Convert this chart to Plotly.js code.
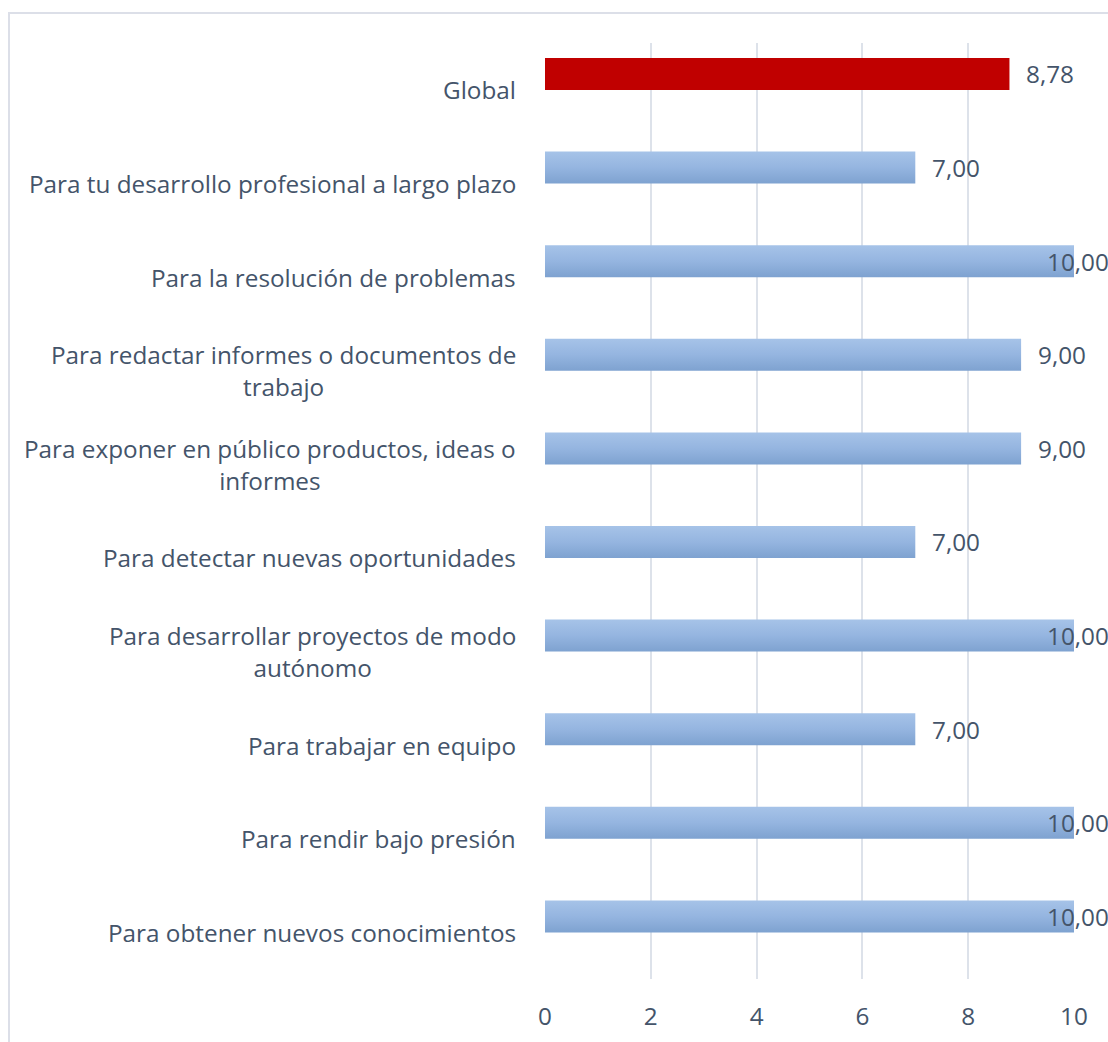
<!DOCTYPE html>
<html>
<head>
<meta charset="utf-8">
<script src="https://cdn.plot.ly/plotly-3.0.1.min.js"></script>
<style>
  html, body { margin: 0; padding: 0; background: #fff; overflow: hidden; }
  #wrap { position: relative; width: 1108px; height: 1042px; overflow: hidden; }
  #frame { position: absolute; left: 8px; top: 12px; width: 2000px; height: 2000px;
           border: 2px solid #dcdfe8; pointer-events: none; box-sizing: border-box; }
  #chart { position: absolute; left: 0; top: 0; width: 1108px; height: 1042px; }
</style>
</head>
<body>
<div id="wrap">
  <div id="chart"></div>
  <div id="frame"></div>
</div>
<script>
// Categories, top to bottom as shown
const categories = [
  "Global",
  "Para tu desarrollo profesional a largo plazo",
  "Para la resolución de problemas",
  "Para redactar informes o documentos de trabajo",
  "Para exponer en público productos, ideas o informes",
  "Para detectar nuevas oportunidades",
  "Para desarrollar proyectos de modo autónomo",
  "Para trabajar en equipo",
  "Para rendir bajo presión",
  "Para obtener nuevos conocimientos"
];
const categoryLabels = [
  "Global",
  "Para tu desarrollo profesional a largo plazo",
  "Para la resolución de problemas",
  "Para redactar informes o documentos de<br>trabajo",
  "Para exponer en público productos, ideas o<br>informes",
  "Para detectar nuevas oportunidades",
  "Para desarrollar proyectos de modo<br>autónomo",
  "Para trabajar en equipo",
  "Para rendir bajo presión",
  "Para obtener nuevos conocimientos"
];
const values = [8.78, 7.00, 10.00, 9.00, 9.00, 7.00, 10.00, 7.00, 10.00, 10.00];
const xTickValues = [0, 2, 4, 6, 8, 10];

const FONT = "'Open Sans', Lato, sans-serif";
const FSIZE = 24.3;
const TEXT_COLOR = "#44546a";
const RED = "#c00000";
const BLUE = "#94b4df";
const xMax = 10;

const colors = values.map((v, i) => i === 0 ? RED : BLUE);

const trace = {
  type: "bar",
  orientation: "h",
  x: values,
  y: categories,
  marker: { color: colors, line: { width: 0 } },
  width: 0.342,
  offset: -0.34,
  hoverinfo: "skip"
};

const fmt = v => v.toFixed(2).replace(".", ",");

const annotations = [];
categories.forEach((c, i) => {
  annotations.push({
    xref: "paper", yref: "y", x: 0, y: c,
    xanchor: "right", yanchor: "middle", xshift: -27,
    text: categoryLabels[i], showarrow: false, align: "center",
    font: { family: FONT, size: FSIZE, color: TEXT_COLOR }
  });
  const v = values[i];
  annotations.push({
    xref: "x", yref: "y", x: v, y: c,
    xanchor: "left", yanchor: "middle",
    xshift: v >= xMax ? -29 : 15,
    yshift: 16,
    text: fmt(v), showarrow: false,
    font: { family: FONT, size: FSIZE, color: TEXT_COLOR }
  });
});

const layout = {
  width: 1108, height: 1042,
  margin: { l: 545, r: 34, t: 43, b: 63, pad: 0 },
  paper_bgcolor: "rgba(0,0,0,0)",
  plot_bgcolor: "rgba(0,0,0,0)",
  showlegend: false,
  font: { family: FONT, color: TEXT_COLOR, size: FSIZE },
  xaxis: {
    range: [0, xMax],
    tickvals: xTickValues,
    ticktext: xTickValues.map(String),
    showgrid: true, gridcolor: "#dde2ea", gridwidth: 2,
    zeroline: false, showline: false, ticks: "",
    ticklabelstandoff: 21,
    tickfont: { family: FONT, size: FSIZE, color: TEXT_COLOR },
    fixedrange: true
  },
  yaxis: {
    type: "category",
    categoryorder: "array", categoryarray: categories,
    range: [categories.length - 0.5, -0.5],
    showticklabels: false, showgrid: false, zeroline: false, showline: false, ticks: "",
    fixedrange: true
  },
  annotations: annotations
};

Plotly.newPlot("chart", [trace], layout, { displayModeBar: false, staticPlot: true }).then(gd => {
  // Apply a vertical gradient to the blue bars (Excel style)
  const svg = gd.querySelector("svg.main-svg");
  const ns = "http://www.w3.org/2000/svg";
  let defs = svg.querySelector("defs");
  if (!defs) { defs = document.createElementNS(ns, "defs"); svg.insertBefore(defs, svg.firstChild); }
  const grad = document.createElementNS(ns, "linearGradient");
  grad.setAttribute("id", "blueGrad");
  grad.setAttribute("x1", "0"); grad.setAttribute("y1", "0");
  grad.setAttribute("x2", "0"); grad.setAttribute("y2", "1");
  [["0%", "#a6c3e8"], ["50%", "#95b5e0"], ["100%", "#7ea2d0"]].forEach(([o, c]) => {
    const s = document.createElementNS(ns, "stop");
    s.setAttribute("offset", o); s.setAttribute("stop-color", c);
    grad.appendChild(s);
  });
  defs.appendChild(grad);
  const paths = gd.querySelectorAll(".trace.bars .point path");
  paths.forEach((p, i) => {
    if (colors[i] === BLUE) p.style.fill = "url(#blueGrad)";
  });
});
</script>
</body>
</html>
